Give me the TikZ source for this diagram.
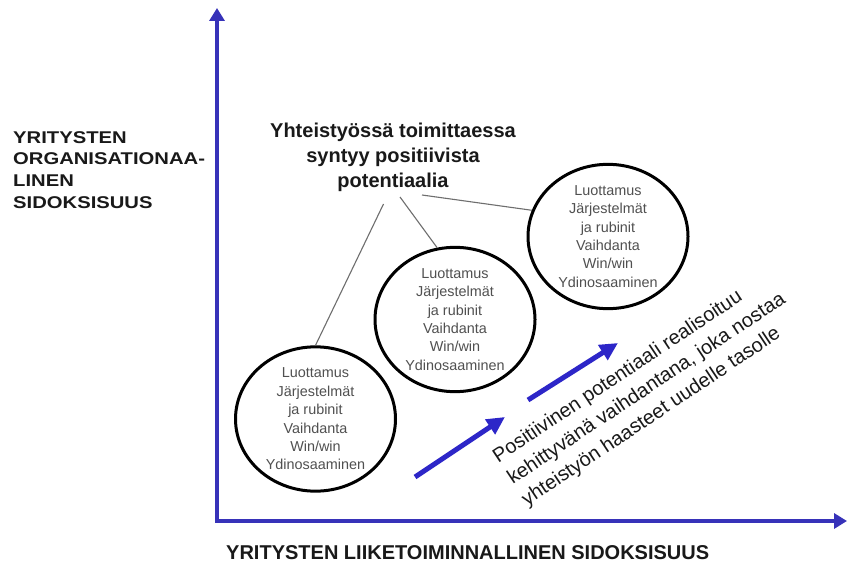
\documentclass[tikz,border=0pt]{standalone}
\usepackage{fontspec}
\setmainfont{Liberation Sans}
\newfontfamily\wideff[FakeStretch=1.19]{Liberation Sans}
\usetikzlibrary{shapes.geometric,arrows.meta}
\definecolor{axisblue}{RGB}{55,50,185}
\definecolor{arrowblue}{RGB}{45,38,200}
\definecolor{circgray}{RGB}{80,80,80}
\definecolor{linegray}{RGB}{110,110,110}
\definecolor{txtdark}{RGB}{25,25,25}
\begin{document}
\begin{tikzpicture}[x=1pt,y=1pt,
  axisline/.style={draw=axisblue,line width=3.5pt,{Triangle[length=13pt,width=15pt]}-{Triangle[length=13pt,width=15pt]}},
  bluearrow/.style={draw=arrowblue,line width=5pt,-{Triangle[length=18pt,width=17pt]}},
  bubble/.style={ellipse,draw=black,line width=3pt,minimum width=160pt,minimum height=144pt,inner sep=0pt,
    align=center,text=circgray,font=\fontsize{14.4pt}{18.4pt}\selectfont},
  connector/.style={draw=linegray,line width=1.1pt},
  boldlabel/.style={inner sep=0pt,text=txtdark,font=\fontsize{20pt}{25pt}\selectfont\bfseries}
]
\fill[white] (0,0) rectangle (848,566);
\useasboundingbox (0,0) rectangle (848,566);

% axes
\coordinate (O) at (217,45);
\coordinate (ytip) at (217,558);
\coordinate (xtip) at (847,45);
\draw[axisline] (ytip) -- (O) -- (xtip);

% axis labels
\node[inner sep=0pt,anchor=north west,align=left,text=txtdark,
  font=\wideff\bfseries\fontsize{17pt}{21.7pt}\selectfont] (ylabel) at (13,435)
  {YRITYSTEN\\ORGANISATIONAA-\\LINEN\\SIDOKSISUUS};
\node[boldlabel,anchor=base west] (xlabel) at (226,6.5)
  {YRITYSTEN LIIKETOIMINNALLINEN SIDOKSISUUS};

% title
\node[boldlabel,anchor=north,align=center] (title) at (393,443.6)
  {Yhteistyössä toimittaessa\\syntyy positiivista\\potentiaalia};

% circles
\node[bubble] (c1) at (315.5,147) {Luottamus\\Järjestelmät\\ja rubinit\\Vaihdanta\\Win/win\\Ydinosaaminen};
\node[bubble] (c2) at (455,246.5) {Luottamus\\Järjestelmät\\ja rubinit\\Vaihdanta\\Win/win\\Ydinosaaminen};
\node[bubble] (c3) at (608,329.5) {Luottamus\\Järjestelmät\\ja rubinit\\Vaihdanta\\Win/win\\Ydinosaaminen};

% connectors from title
\coordinate (tA) at (383.5,362);
\coordinate (tB) at (400,369);
\coordinate (tC) at (422,371);
\draw[connector] (tA) -- (c1.north);
\draw[connector] (tB) -- (c2.104);
\draw[connector] (tC) -- (c3.161);

% blue arrows
\coordinate (a1s) at (415,89);
\coordinate (a1e) at (505,149);
\coordinate (a2s) at (528,166);
\coordinate (a2e) at (618,223);
\draw[bluearrow] (a1s) -- (a1e);
\draw[bluearrow] (a2s) -- (a2e);

% rotated text
\node[inner sep=0pt,anchor=north west,align=left,rotate=33.7,text=txtdark,
  font=\fontsize{20pt}{26pt}\selectfont] (note) at (490,115)
  {Positiivinen potentiaali realisoituu\\kehittyvänä vaihdantana, joka nostaa\\yhteistyön haasteet uudelle tasolle};
\end{tikzpicture}
\end{document}
